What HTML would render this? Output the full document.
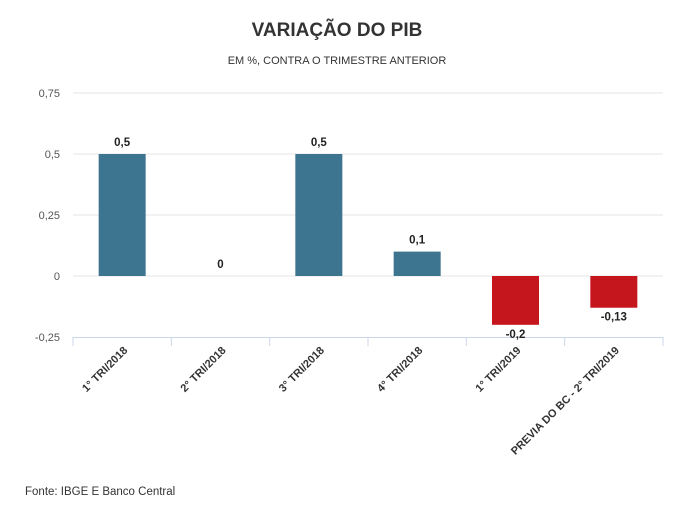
<!DOCTYPE html>
<html><head><meta charset="utf-8"><style>
body{margin:0;background:#fff;}
text{font-family:"Liberation Sans",sans-serif;}
</style></head><body>
<svg id="chart" width="674" height="513" xmlns="http://www.w3.org/2000/svg">
<text x="337" y="36" text-anchor="middle" font-size="19" font-weight="bold" fill="#333">VARIAÇÃO DO PIB</text>
<text x="337" y="64" text-anchor="middle" font-size="11" fill="#333">EM %, CONTRA O TRIMESTRE ANTERIOR</text>
<text x="25" y="495" font-size="11.5" fill="#333">Fonte: IBGE E Banco Central</text>
<g id="grid"></g><g id="bars"></g><g id="labels"></g>
</svg>
<script>
const categories=["1° TRI/2018","2° TRI/2018","3° TRI/2018","4° TRI/2018","1° TRI/2019","PREVIA DO BC - 2° TRI/2019"];
const values=[0.5,0,0.5,0.1,-0.2,-0.13];
const valueLabels=["0,5","0","0,5","0,1","-0,2","-0,13"];
const ticks=[0.75,0.5,0.25,0,-0.25];
const tickLabels=["0,75","0,5","0,25","0","-0,25"];
const NS="http://www.w3.org/2000/svg";
const x0=73,x1=663,yTop=93,yBot=337,vMax=0.75,vMin=-0.25;
const y=v=>yTop+(vMax-v)/(vMax-vMin)*(yBot-yTop);
const bw=(x1-x0)/categories.length;
const xc=i=>x0+bw*(i+0.5);
function mk(tag,attrs,parent){const e=document.createElementNS(NS,tag);for(const k in attrs)e.setAttribute(k,attrs[k]);parent.appendChild(e);return e;}
const grid=document.getElementById('grid'),bars=document.getElementById('bars'),labels=document.getElementById('labels');
ticks.forEach((t,i)=>{
  if(t!==vMin){const l=mk('line',{x1:x0,x2:x1,y1:y(t),y2:y(t),stroke:'#e6e6e6'},grid);
  
  }
  const tx=mk('text',{x:60,y:y(t)+4,'text-anchor':'end','font-size':11,fill:'#555'},grid);
  
  
  tx.textContent=tickLabels[i];
});
const ax=mk('line',{x1:x0,x2:x1,y1:yBot+0.5,y2:yBot+0.5,stroke:'#ccd6eb'},grid);


for(let i=0;i<=categories.length;i++){
  const tk=mk('line',{x1:x0+bw*i,x2:x0+bw*i,y1:yBot,y2:yBot+9,stroke:'#ccd6eb'},grid);
  
  
}
values.forEach((v,i)=>{
  const yt=Math.min(y(v),y(0)),h=Math.abs(y(v)-y(0));
  const r=mk('rect',{x:xc(i)-23.5,y:yt,width:47,height:h,fill:v<0?'#c4161c':'#3d7490'},bars);
  
  
  const ly=v<0?y(v)+13:y(v)-8;
  const t=mk('text',{x:xc(i),y:ly,'text-anchor':'middle','font-size':11.5,'font-weight':'bold',fill:'#222'},labels);
  
  
  t.textContent=valueLabels[i];
  const c=mk('text',{x:xc(i)+6,y:yBot+14,'text-anchor':'end','font-size':11,'font-weight':'bold',fill:'#333',transform:`rotate(-45 ${xc(i)+6} ${yBot+14})`},labels);
  
  
  c.textContent=categories[i];
});
</script>
</body></html>
